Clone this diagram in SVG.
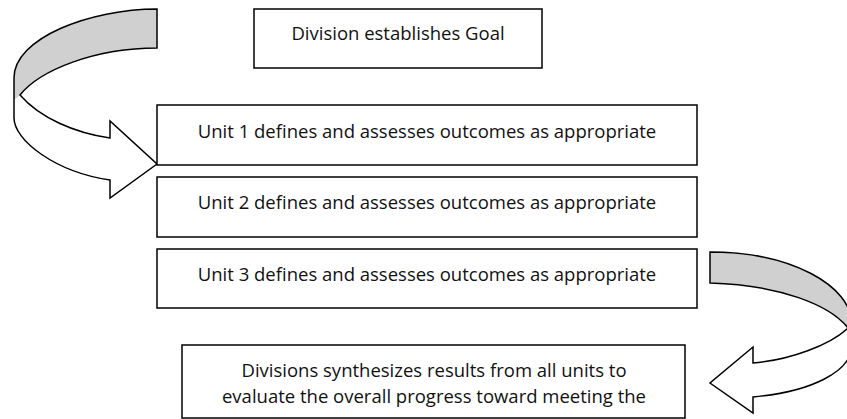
<svg xmlns="http://www.w3.org/2000/svg" width="847" height="419" viewBox="0 0 847 419">
<style>
.box{fill:#fff;stroke:#000;stroke-width:1.5}
.t{font-family:"Open Sans","Liberation Sans",sans-serif;font-size:18.5px;fill:#111;text-anchor:middle}
.band{fill:#d0d0d0;stroke:none}
.body{fill:#fff;stroke:none}
.edge{fill:none;stroke:#000;stroke-width:1.5;stroke-linejoin:miter}
</style>
<rect width="847" height="419" fill="#fff"/>
<g id="connectors">
<g id="arrow-left">
<path class="body" d="M157,48 L157,9 C90,9 14,38 14,78 L14,118 C14,140 55,172 110,180 L110,198 L157,164 L110,121 L110,138 C75,133 40,118 20,95 C40,70 95,48 157,48 Z"/>
<path class="band" d="M157,9 C90,9 14,38 14,78 L14,100 L20,95 C40,70 95,48 157,48 Z"/>
<path class="edge" d="M157,48 L157,9 C90,9 14,38 14,78 L14,118 C14,140 55,172 110,180 L110,198 L157,164 L110,121 L110,138 C75,133 40,118 20,95 C40,70 95,48 157,48 Z"/>
</g>
<g id="arrow-right">
<path class="body" d="M710,283 L710,252 C790,252 852,285 852,325 L852,345 C852,372 810,392 753,397 L753,413 L710,383 L753,347 L753,363 C790,360 830,345 848,328 C830,305 780,285 710,283 Z"/>
<path class="band" d="M710,252 C790,252 852,285 852,325 L852,330 L848,328 C830,305 780,285 710,283 Z"/>
<path class="edge" d="M710,283 L710,252 C790,252 852,285 852,325 L852,345 C852,372 810,392 753,397 L753,413 L710,383 L753,347 L753,363 C790,360 830,345 848,328 C830,305 780,285 710,283 Z"/>
</g>
</g>
<g id="goal">
<rect class="box" x="254" y="9" width="288" height="59"/>
<text class="t" x="398" y="40">Division establishes Goal</text>
</g>
<g id="unit1">
<rect class="box" x="157" y="105" width="540" height="60"/>
<text class="t" x="427" y="138">Unit 1 defines and assesses outcomes as appropriate</text>
</g>
<g id="unit2">
<rect class="box" x="157" y="177" width="540" height="60"/>
<text class="t" x="427" y="209">Unit 2 defines and assesses outcomes as appropriate</text>
</g>
<g id="unit3">
<rect class="box" x="157" y="249" width="540" height="59"/>
<text class="t" x="427" y="281">Unit 3 defines and assesses outcomes as appropriate</text>
</g>
<g id="synthesis">
<rect class="box" x="182" y="345" width="503" height="73"/>
<text class="t" x="434" y="377">Divisions synthesizes results from all units to</text>
<text class="t" x="434" y="403">evaluate the overall progress toward meeting the</text>
</g>
</svg>
